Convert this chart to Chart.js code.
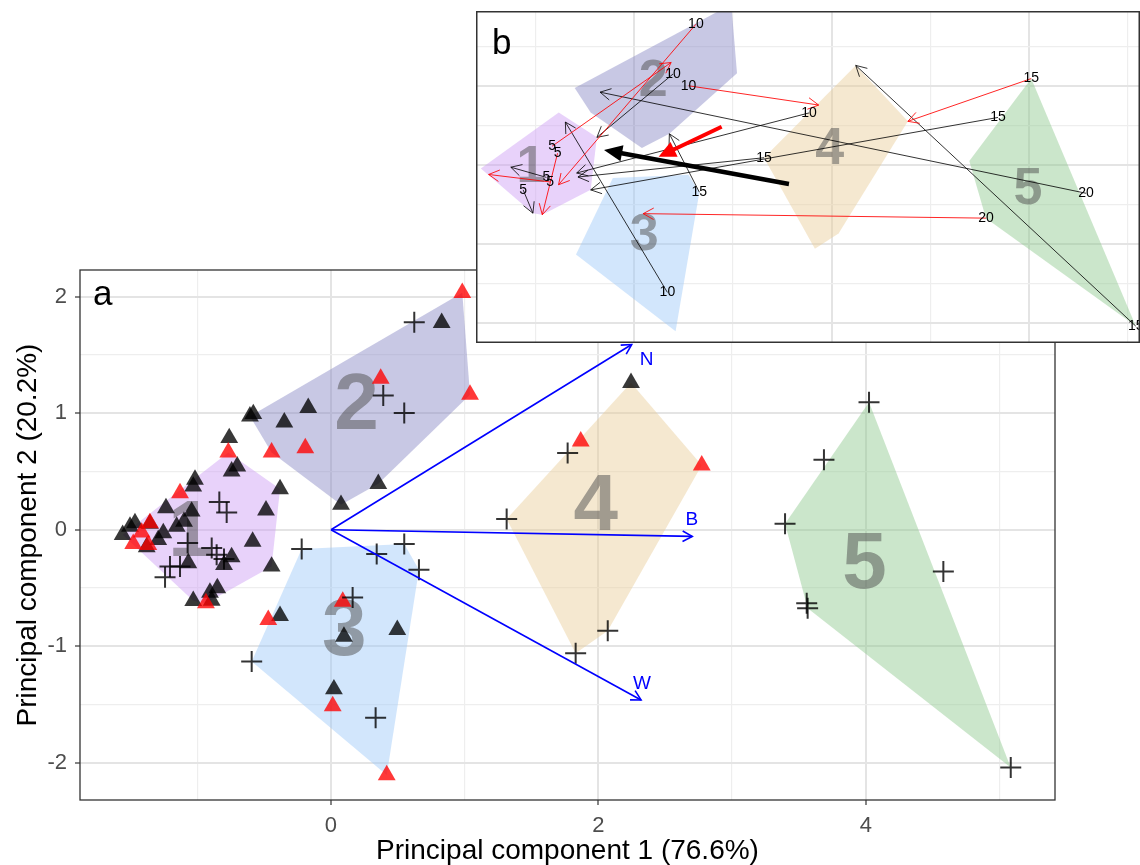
<!DOCTYPE html>
<html>
<head>
<meta charset="utf-8">
<script src="https://cdn.jsdelivr.net/npm/chart.js@4.4.1/dist/chart.umd.min.js"></script>
<style>
  html, body { margin: 0; padding: 0; background: #fff; }
  #wrap { position: relative; width: 1140px; height: 865px; overflow: hidden; }
  #main { position: absolute; left: 0; top: 0; }
  #inset { position: absolute; left: 476px; top: 11px; }
</style>
</head>
<body>
<div id="wrap">
  <canvas id="main" width="1140" height="865"></canvas>
  <canvas id="inset" width="664" height="332"></canvas>
</div>
<script>
// ---------- PCA scores ----------
const blackTriX = [-1.558,-1.503,-1.466,-1.354,-1.254,-1.292,-1.378,-1.154,-1.099,-1.042,-1.234,-1.030,-1.017,-0.743,-0.701,-0.486,-0.381,-0.586,-0.743,-0.800,-1.067,-0.444,-1.030,-0.905,-0.850,-0.892,-0.381,-0.606,-0.581,-0.349,-0.170,0.828,0.354,0.075,-0.761,0.097,0.496,0.022,2.244];
const blackTriY = [-0.043,0.028,0.058,0.052,-0.028,-0.086,-0.149,0.028,0.071,0.157,0.187,0.372,0.430,0.501,0.544,0.166,0.350,-0.101,-0.235,-0.301,-0.286,-0.315,-0.610,-0.539,-0.501,-0.608,-0.739,0.974,0.994,0.922,1.046,1.777,0.395,0.215,0.788,-0.917,-0.859,-1.369,1.261];

const redTriX = [-1.129,-1.479,-1.416,-1.366,-1.354,-0.935,-0.469,-0.768,-0.444,-0.192,0.372,0.982,1.040,0.088,0.013,0.417,1.868,2.773];
const redTriY = [0.315,-0.120,-0.023,-0.129,0.058,-0.630,-0.774,0.664,0.664,0.702,1.298,2.034,1.160,-0.616,-1.513,-2.106,0.759,0.553];

const plusX = [-1.072,-0.892,-0.855,-0.800,-1.204,-1.129,-1.241,-0.835,-0.780,-0.219,-0.593,0.342,0.548,0.658,0.162,0.334,0.623,0.391,0.548,1.770,1.314,2.070,1.830,4.024,3.687,3.396,4.580,3.558,3.565,5.084];
const plusY = [-0.114,-0.157,-0.215,-0.252,-0.315,-0.315,-0.407,0.238,0.149,-0.166,-1.132,-0.209,-0.123,-0.344,-0.582,-1.613,1.782,1.152,1.003,0.659,0.092,-0.866,-1.060,1.094,0.602,0.052,-0.358,-0.630,-0.673,-2.040];

// ---------- cluster hulls and labels ----------
const hull1X = [-0.768,-0.381,-0.444,-0.935,-1.030,-1.558];
const hull1Y = [0.664,0.350,-0.315,-0.630,-0.610,-0.043];
const hull2X = [-0.606,0.982,1.040,0.354,0.075,-0.444];
const hull2Y = [0.974,2.034,1.160,0.395,0.215,0.664];
const hull3X = [-0.219,0.548,0.658,0.417,-0.593];
const hull3Y = [-0.166,-0.123,-0.344,-2.106,-1.132];
const hull4X = [2.244,2.773,2.070,1.830,1.314];
const hull4Y = [1.261,0.553,-0.866,-1.060,0.092];
const hull5X = [4.024,5.084,3.565,3.396];
const hull5Y = [1.094,-2.040,-0.673,0.052];

const clusterNames = ['1','2','3','4','5'];
const clusterLabelX = [-1.05,0.19,0.10,1.98,3.99];
const clusterLabelY = [-0.04,1.055,-0.89,0.19,-0.31];

// ---------- variable loadings ----------
const loadingNames = ['N','B','W'];
const loadingX = [2.249,2.702,2.319];
const loadingY = [1.590,-0.057,-1.461];
const loadingLabelX = [2.361,2.698,2.326];
const loadingLabelY = [1.462,0.089,-1.324];

// ---------- trajectories (inset) ----------
const blackFromX = [-0.892,-1.129,0.334,0.391,0.658,4.580,1.770,1.314,3.687,5.084];
const blackFromY = [-0.157,-0.315,-1.613,1.152,-0.344,-0.358,0.659,0.092,0.602,-2.040];
const blackToX   = [-1.254,-1.030,-0.701,-0.381,0.354,-0.349,-0.586,-0.573,-0.444,2.244];
const blackToY   = [-0.028,-0.610,0.544,0.350,0.395,0.922,-0.101,-0.152,-0.315,1.261];
const blackAge   = ['5','5','10','10','15','20','10','15','15','15'];

const redFromX = [-0.835,0.623,-0.780,-0.855,0.548,3.565,4.024];
const redFromY = [0.238,1.782,0.149,-0.215,1.003,-0.673,1.094];
const redToX   = [0.372,-0.770,-0.935,-1.479,1.868,0.088,2.773];
const redToY   = [1.298,-0.250,-0.630,-0.120,0.759,-0.616,0.553];
const redAge   = ['5','10','5','5','10','20','15'];

// mean shift of each group
const shiftFromX = [1.567,0.884];
const shiftFromY = [-0.241,0.485];
const shiftToX   = [-0.309,0.245];
const shiftToY   = [0.190,0.105];

// ---------- axes ----------
const xTicks = [-1,0,1,2,3,4,5];
const xMajor = [0,2,4];
const yTicks = [-2,-1.5,-1,-0.5,0,0.5,1,1.5,2];
const yMajor = [-2,-1,0,1,2];

// ---------- styles ----------
const FONT = '"Liberation Sans", Arial, Helvetica, sans-serif';
const hullFill = ['rgba(204,155,244,0.45)','rgba(133,133,195,0.45)','rgba(155,199,248,0.45)','rgba(233,205,151,0.45)','rgba(139,199,139,0.45)'];
const BLACK_PT = 'rgba(0,0,0,0.78)';
const RED_PT = 'rgba(255,0,0,0.78)';

const zip = (xs, ys) => xs.map((x, i) => ({ x, y: ys[i] }));
const hulls = [[hull1X,hull1Y],[hull2X,hull2Y],[hull3X,hull3Y],[hull4X,hull4Y],[hull5X,hull5Y]];

function hullDatasets() {
  return hulls.map(([hx, hy], i) => ({
    data: zip(hx, hy), showLine: true, fill: 'shape',
    backgroundColor: hullFill[i], borderColor: 'rgba(0,0,0,0)', borderWidth: 0,
    pointRadius: 0, hull: true, order: 50
  }));
}

function arrowDataset(x0, y0, x1, y1, color, width, head, extra) {
  return Object.assign({
    data: [{ x: x0, y: y0 }, { x: x1, y: y1 }], showLine: true, fill: false,
    borderColor: color, borderWidth: width, pointRadius: 0, head
  }, extra);
}

function drawHead(ctx, x0, y0, x1, y1, len, half, color, lw, solid) {
  const a = Math.atan2(y1 - y0, x1 - x0);
  ctx.save();
  ctx.beginPath();
  ctx.moveTo(x1 - len * Math.cos(a - half), y1 - len * Math.sin(a - half));
  ctx.lineTo(x1, y1);
  ctx.lineTo(x1 - len * Math.cos(a + half), y1 - len * Math.sin(a + half));
  if (solid) { ctx.closePath(); ctx.fillStyle = color; ctx.fill(); }
  else { ctx.strokeStyle = color; ctx.lineWidth = lw; ctx.lineJoin = 'miter'; ctx.lineCap = 'butt'; ctx.stroke(); }
  ctx.restore();
}

function drawClusterLabels(chart, size) {
  const { ctx, scales } = chart;
  ctx.save();
  ctx.beginPath();
  ctx.rect(chart.chartArea.left, chart.chartArea.top, chart.chartArea.width, chart.chartArea.height);
  ctx.clip();
  ctx.font = `bold ${size}px ${FONT}`;
  ctx.fillStyle = 'rgba(77,77,77,0.5)';
  ctx.textAlign = 'center';
  ctx.textBaseline = 'middle';
  clusterNames.forEach((n, i) => {
    ctx.fillText(n, scales.x.getPixelForValue(clusterLabelX[i]), scales.y.getPixelForValue(clusterLabelY[i]));
  });
  ctx.restore();
}

const decor = {
  id: 'decor',
  beforeDraw(chart) {
    const { ctx, width, height } = chart;
    ctx.save(); ctx.fillStyle = '#fff'; ctx.fillRect(0, 0, width, height); ctx.restore();
  },
  beforeDatasetsDraw(chart) { chart.$labelsDone = false; },
  beforeDatasetDraw(chart, args, opts) {
    const ds = chart.data.datasets[args.index];
    if (!ds.hull && !chart.$labelsDone) { drawClusterLabels(chart, opts.clusterSize); chart.$labelsDone = true; }
    if (ds.head === 'solid') {
      // keep the shaft behind the base of the filled head
      const [p0, p1] = args.meta.data;
      const a = Math.atan2(p1.y - p0.y, p1.x - p0.x), dx = Math.cos(a), dy = Math.sin(a);
      const bx = p1.x - dx * ds.headLen * 0.8, by = p1.y - dy * ds.headLen * 0.8;
      const nx = -dy, ny = dx, F = 3000;
      const ctx = chart.ctx;
      ctx.save();
      ctx.beginPath();
      ctx.moveTo(bx + nx * F, by + ny * F);
      ctx.lineTo(bx - nx * F, by - ny * F);
      ctx.lineTo(bx - nx * F - dx * F, by - ny * F - dy * F);
      ctx.lineTo(bx + nx * F - dx * F, by + ny * F - dy * F);
      ctx.closePath();
      ctx.clip();
    }
  },
  afterDatasetDraw(chart, args) {
    const ds = chart.data.datasets[args.index];
    if (!ds.head) return;
    const [p0, p1] = args.meta.data;
    if (ds.head === 'solid') {
      chart.ctx.restore();
      drawHead(chart.ctx, p0.x, p0.y, p1.x, p1.y, ds.headLen, ds.headHalf, ds.borderColor, 0, true);
    } else {
      drawHead(chart.ctx, p0.x, p0.y, p1.x, p1.y, ds.headLen, ds.headHalf, ds.borderColor, ds.borderWidth, false);
    }
  },
  afterDatasetsDraw(chart, args, opts) {
    const { ctx, scales } = chart;
    ctx.save();
    // text attached to arrow tails
    chart.data.datasets.forEach((ds, i) => {
      if (!ds.tailLabel) return;
      const p = chart.getDatasetMeta(i).data[0];
      ctx.font = `${opts.tailSize}px ${FONT}`;
      ctx.fillStyle = '#000';
      ctx.textAlign = 'center';
      ctx.textBaseline = 'middle';
      ctx.fillText(ds.tailLabel, p.x, p.y);
    });
    // variable names at loading tips
    if (opts.loadings) {
      ctx.font = `19px ${FONT}`;
      ctx.fillStyle = '#0000FF';
      ctx.textAlign = 'center';
      ctx.textBaseline = 'middle';
      loadingNames.forEach((n, i) => {
        ctx.fillText(n, scales.x.getPixelForValue(loadingLabelX[i]), scales.y.getPixelForValue(loadingLabelY[i]));
      });
    }
    ctx.restore();
  },
  afterDraw(chart, args, opts) {
    const { ctx, chartArea, width, height } = chart;
    ctx.save();
    ctx.strokeStyle = '#333';
    ctx.lineWidth = opts.frameWidth;
    if (opts.frame === 'canvas') {
      ctx.strokeRect(0.75, 0.75, width - 1.5, height - 1.5);
    } else {
      ctx.strokeRect(chartArea.left, chartArea.top, chartArea.width, chartArea.height);
    }
    ctx.font = `35px ${FONT}`;
    ctx.fillStyle = '#000';
    ctx.textAlign = 'left';
    ctx.textBaseline = 'alphabetic';
    ctx.fillText(opts.tag, opts.tagX, opts.tagY);
    ctx.restore();
  }
};

function gridOpts(majors, showTicks) {
  return {
    color: c => majors.includes(c.tick && c.tick.value) ? '#E4E4E4' : '#EEEEEE',
    lineWidth: c => majors.includes(c.tick && c.tick.value) ? 2 : 1.2,
    drawTicks: showTicks,
    tickLength: 5,
    tickWidth: 1.2,
    tickColor: c => majors.includes(c.tick && c.tick.value) ? '#333333' : 'rgba(0,0,0,0)'
  };
}

// ---------- panel a ----------
const mainDatasets = [
  ...hullDatasets(),
  { data: zip(blackTriX, blackTriY), pointStyle: 'triangle', pointRadius: 10.3, backgroundColor: BLACK_PT, borderWidth: 0, order: 42 },
  { data: zip(redTriX, redTriY), pointStyle: 'triangle', pointRadius: 10.3, backgroundColor: RED_PT, borderWidth: 0, order: 41 },
  { data: zip(plusX, plusY), pointStyle: 'cross', pointRadius: 10.5, borderColor: 'rgba(0,0,0,0.8)', backgroundColor: 'rgba(0,0,0,0)', borderWidth: 2, order: 40 },
  ...loadingNames.map((n, i) => arrowDataset(0, 0, loadingX[i], loadingY[i], '#0000FF', 1.6, 'open', { headLen: 11, headHalf: 0.5, order: 10 }))
];

new Chart(document.getElementById('main'), {
  type: 'scatter',
  data: { datasets: mainDatasets },
  plugins: [decor],
  options: {
    responsive: false, animation: false, events: [],
    layout: { padding: { top: 270, right: 85, left: 0, bottom: 0 } },
    scales: {
      x: {
        type: 'linear', min: -1.877, max: 5.415,
        afterBuildTicks: s => { s.ticks = xTicks.map(v => ({ value: v })); },
        afterFit: s => { s.height = 65; },
        grid: gridOpts(xMajor, true),
        border: { display: false },
        ticks: { autoSkip: false, maxRotation: 0, padding: 8, color: '#4D4D4D',
                 font: { family: FONT, size: 22 },
                 callback: v => xMajor.includes(v) ? String(v) : '' },
        title: { display: true, text: 'Principal component 1 (76.6%)', color: '#000',
                 font: { family: FONT, size: 28, lineHeight: 1 }, padding: { top: 0, bottom: 0 } }
      },
      y: {
        type: 'linear', min: -2.32, max: 2.23,
        afterBuildTicks: s => { s.ticks = yTicks.map(v => ({ value: v })); },
        afterFit: s => { s.width = 80; },
        grid: gridOpts(yMajor, true),
        border: { display: false },
        ticks: { autoSkip: false, padding: 8, color: '#4D4D4D',
                 font: { family: FONT, size: 22 },
                 callback: v => yMajor.includes(v) ? String(v) : '' },
        title: { display: true, text: 'Principal component 2 (20.2%)', color: '#000',
                 font: { family: FONT, size: 28, lineHeight: 1 }, padding: { top: 14, bottom: 0 } }
      }
    },
    plugins: {
      legend: { display: false }, tooltip: { enabled: false },
      decor: { clusterSize: 80, tailSize: 14, loadings: true, frame: 'area', frameWidth: 1.3,
               tag: 'a', tagX: 93, tagY: 305 }
    }
  }
});

// ---------- panel b ----------
const insetDatasets = [
  ...hullDatasets(),
  ...blackAge.map((a, i) => arrowDataset(blackFromX[i], blackFromY[i], blackToX[i], blackToY[i],
      'rgba(0,0,0,0.8)', 1, 'open', { headLen: 12, headHalf: 0.5, tailLabel: a, order: 20 })),
  ...redAge.map((a, i) => arrowDataset(redFromX[i], redFromY[i], redToX[i], redToY[i],
      'rgba(255,0,0,0.85)', 1, 'open', { headLen: 12, headHalf: 0.5, tailLabel: a, order: 19 })),
  arrowDataset(shiftFromX[0], shiftFromY[0], shiftToX[0], shiftToY[0], '#000000', 4.5, 'solid', { headLen: 20, headHalf: 0.42, order: 5 }),
  arrowDataset(shiftFromX[1], shiftFromY[1], shiftToX[1], shiftToY[1], '#FF0000', 4, 'solid', { headLen: 19, headHalf: 0.45, order: 4 })
];

new Chart(document.getElementById('inset'), {
  type: 'scatter',
  data: { datasets: insetDatasets },
  plugins: [decor],
  options: {
    responsive: false, animation: false, events: [],
    layout: { padding: { top: 1, right: 1, left: 1, bottom: 1 } },
    scales: {
      x: {
        type: 'linear', min: -1.597, max: 5.117,
        afterBuildTicks: s => { s.ticks = xTicks.map(v => ({ value: v })); },
        afterFit: s => { s.height = 0; },
        grid: gridOpts(xMajor, false),
        border: { display: false },
        ticks: { display: false }
      },
      y: {
        type: 'linear', min: -2.241, max: 1.937,
        afterBuildTicks: s => { s.ticks = yTicks.map(v => ({ value: v })); },
        afterFit: s => { s.width = 0; },
        grid: gridOpts(yMajor, false),
        border: { display: false },
        ticks: { display: false }
      }
    },
    plugins: {
      legend: { display: false }, tooltip: { enabled: false },
      decor: { clusterSize: 52, tailSize: 14, loadings: false, frame: 'canvas', frameWidth: 1.5,
               tag: 'b', tagX: 16, tagY: 43 }
    }
  }
});
</script>
</body>
</html>
